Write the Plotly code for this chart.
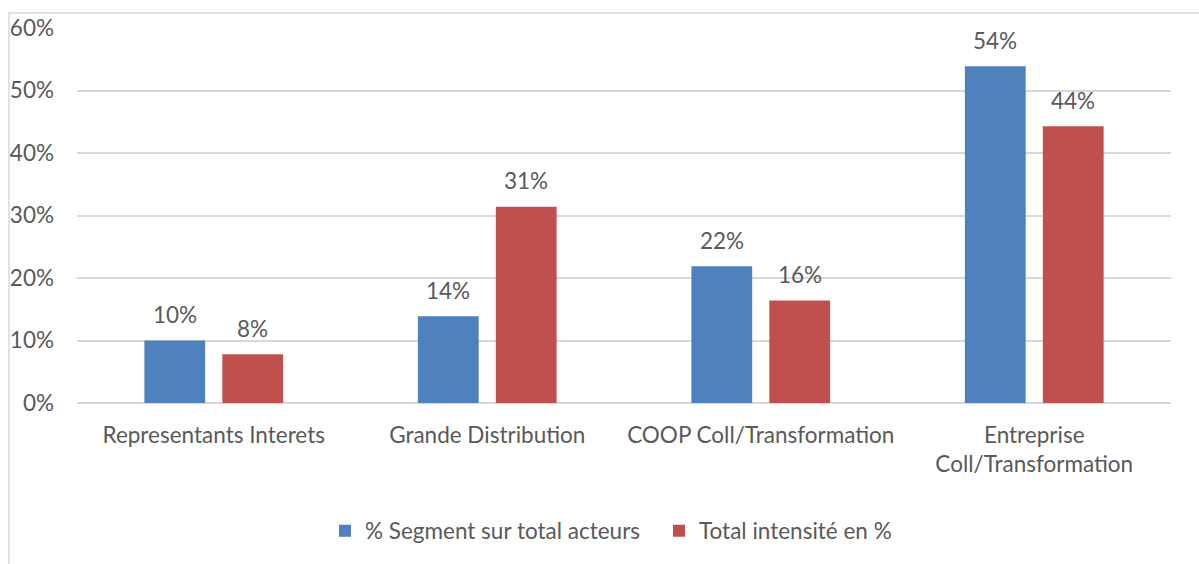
import plotly.graph_objects as go

# Categories and series
categories = ["Representants Interets", "Grande Distribution", "COOP Coll/Transformation",
              "Entreprise<br>Coll/Transformation"]
segment_share = [0.10, 0.139, 0.219, 0.539]
intensity_share = [0.078, 0.314, 0.164, 0.443]
series_names = ["% Segment sur total acteurs", "Total intensité en %"]
series_colors = ["#4F81BD", "#C0504D"]

FONT = "Lato"
TXT = "#595959"
GRID = "#D9D9D9"
FS = 22.5

W, H = 1199, 564
ML, MR, MT, MB = 77, 28, 28, 161
PW = W - ML - MR
PH = H - MT - MB

fig = go.Figure()
for name, vals, col in zip(series_names, [segment_share, intensity_share], series_colors):
    fig.add_trace(go.Bar(
        x=categories, y=vals, name=name,
        marker=dict(color=col, line=dict(width=0)),
        hoverinfo="skip",
    ))

# value labels above each bar
for i, vals in enumerate([segment_share, intensity_share]):
    shift = -39 if i == 0 else 39
    for c, v in zip(categories, vals):
        fig.add_annotation(
            x=c, y=v, xref="x", yref="y",
            text=f"{round(v * 100):.0f}%", showarrow=False,
            xshift=shift, yshift=26, yanchor="middle",
            font=dict(family=FONT, size=FS, color=TXT),
        )

# outer chart frame
fig.add_shape(
    type="rect", xref="paper", yref="paper",
    x0=(9 - ML) / PW, x1=1.2, y0=-1.0, y1=(PH + MT - 13) / PH,
    line=dict(color=GRID, width=1.5), fillcolor="rgba(0,0,0,0)", layer="below",
)

fig.update_layout(
    width=W, height=H,
    margin=dict(l=ML, r=MR, t=MT, b=MB, autoexpand=False),
    paper_bgcolor="white", plot_bgcolor="white",
    barmode="group", bargap=0.43, bargroupgap=0.22,
    font=dict(family=FONT, size=FS, color=TXT),
    showlegend=True,
    legend=dict(
        orientation="h", x=(325 - ML) / PW, xanchor="left",
        y=(PH - (531 - MT)) / PH, yanchor="middle",
        font=dict(family=FONT, size=FS, color=TXT),
        itemwidth=30, entrywidth=289, entrywidthmode="pixels",
        bgcolor="rgba(0,0,0,0)",
    ),
    xaxis=dict(
        showgrid=False, showline=False, ticks="", zeroline=False,
        tickfont=dict(family=FONT, size=FS, color=TXT),
        ticklabelstandoff=16,
    ),
    yaxis=dict(
        range=[0, 0.6], dtick=0.1, tickformat=".0%",
        showgrid=True, gridcolor=GRID, gridwidth=1.5,
        zeroline=True, zerolinecolor=GRID, zerolinewidth=1.5,
        showline=False, ticks="",
        tickfont=dict(family=FONT, size=FS, color=TXT),
        ticklabelstandoff=22,
    ),
)

fig.write_html("out.html")
